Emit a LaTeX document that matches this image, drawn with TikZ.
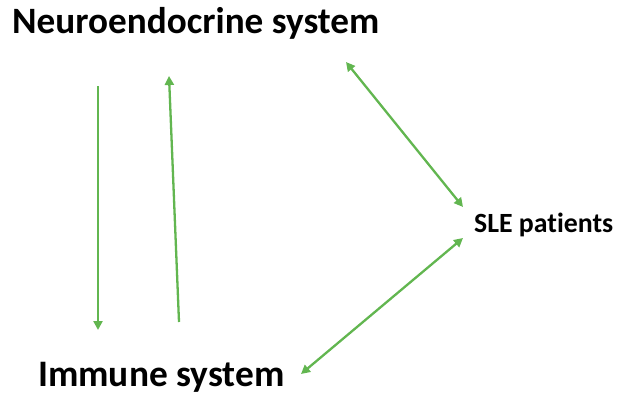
\documentclass[tikz,border=0pt]{standalone}
\usepackage{fontspec}
\setmainfont[Ligatures={NoCommon}]{Carlito}
\usetikzlibrary{arrows.meta}
\definecolor{arrowgreen}{RGB}{98,182,80}
\begin{document}
\begin{tikzpicture}[x=1pt,y=-1pt,
  lbl/.style={inner sep=0pt,anchor=base west,font=\bfseries},
  conn/.style={draw=arrowgreen,line width=2.3pt,
    -{Triangle[length=9pt,width=9pt]}},
  dconn/.style={draw=arrowgreen,line width=2.3pt,
    {Triangle[length=9pt,width=9pt]}-{Triangle[length=9pt,width=9pt]}}]
\useasboundingbox (0,0) rectangle (617,394);
\node[lbl,font=\bfseries\fontsize{37.2}{40}\selectfont] (neuro) at (12,33) {Neuroendocrine system};
\node[lbl,font=\bfseries\fontsize{37.4}{40}\selectfont] (immune) at (38,386) {Immune system};
\node[lbl,font=\bfseries\fontsize{27.8}{30}\selectfont] (sle) at (474,232) {SLE patients};
\coordinate (n1) at (98,86);
\coordinate (i1) at (98,330);
\coordinate (i2) at (179,322);
\coordinate (n2) at (169,76);
\coordinate (n3) at (346,62);
\coordinate (s1) at (463,207);
\coordinate (s2) at (463,238);
\coordinate (i3) at (301,374);
\draw[conn] (n1) -- (i1);
\draw[conn] (i2) -- (n2);
\draw[dconn] (n3) -- (s1);
\draw[dconn] (s2) -- (i3);
\end{tikzpicture}
\end{document}
